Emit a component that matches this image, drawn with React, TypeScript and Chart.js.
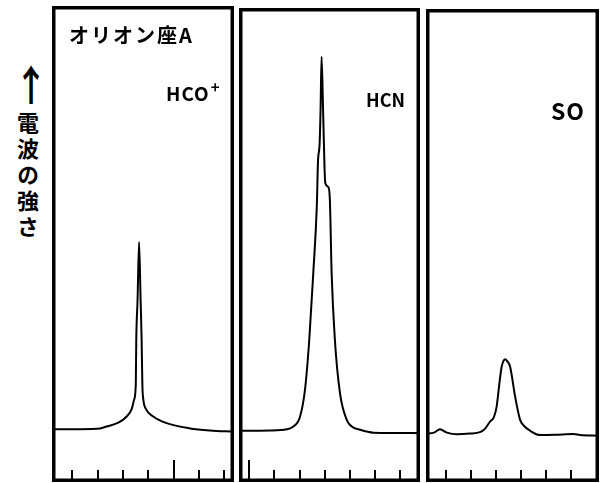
import React, { useEffect, useRef } from "react";
import { Chart, registerables } from "chart.js";

Chart.register(...registerables);

// ---- data (x in tick units, y in relative intensity) ----
const hcoX = [-0.8, 0, 0.98, 1.36, 1.82, 2.15, 2.35, 2.44, 2.51, 2.53, 2.58, 2.64, 2.7, 2.74, 2.77, 2.81, 2.91, 3.2, 3.73, 4.65, 5.44, 6.39];
const hcoY = [10.9, 10.9, 11.0, 11.5, 12.3, 13.6, 15.2, 17.1, 20.3, 30.0, 38.2, 50.4, 38.2, 30.0, 20.3, 17.1, 15.2, 13.6, 12.2, 11.1, 10.65, 10.4];

const hcnX = [-0.41, 0.82, 1.49, 1.75, 2.01, 2.21, 2.38, 2.54, 2.68, 2.73, 2.79, 2.83, 2.87, 2.93, 2.99, 3.02, 3.14, 3.2, 3.27, 3.4, 3.6, 3.87, 4.07, 4.4, 4.93, 6.78];
const hcnY = [10.6, 10.65, 10.9, 11.5, 13.5, 19.2, 29.7, 43.8, 57.9, 67.7, 70.9, 78.3, 89.5, 78.3, 65.6, 62.8, 62.0, 59.3, 43.8, 29.7, 18.6, 12.9, 11.5, 10.8, 10.2, 10.1];

const soX = [-0.8, -0.48, -0.24, 0.04, 0.43, 0.96, 1.36, 1.56, 1.76, 1.92, 2.03, 2.14, 2.23, 2.31, 2.37, 2.45, 2.57, 2.77, 2.97, 3.13, 3.37, 3.77, 4.37, 5.1, 5.37, 6.13];
const soY = [10.0, 10.2, 10.9, 10.2, 9.85, 10.0, 10.3, 11.0, 12.5, 13.5, 15.7, 20.6, 24.1, 25.4, 25.7, 25.3, 24.1, 17.8, 12.9, 11.6, 10.6, 9.7, 9.75, 9.9, 9.7, 9.55];

const ticksHCO = [0, 1, 2, 3, 4, 5, 6];
const tallHCO = [4];
const ticksHCN = [0, 1, 2, 3, 4, 5, 6];
const tallHCN = [0];
const ticksSO = [0, 1, 2, 3, 4, 5];
const tallSO: number[] = [];

const mainTitle = "オリオン座A";
const moleculeNames = ["HCO", "HCN", "SO"];
const hcoCharge = "+";
const yAxisLabel = "電波の強さ";

type Panel = {
  xs: number[];
  ys: number[];
  ticks: number[];
  tall: number[];
  left: number;
  top: number;
  width: number;
  height: number;
  xMin: number;
  xMax: number;
  yMin: number;
  yMax: number;
};

const panels: Panel[] = [
  { xs: hcoX, ys: hcoY, ticks: ticksHCO, tall: tallHCO, left: 52, top: 6, width: 182, height: 476, xMin: -0.8, xMax: 6.39, yMin: -0.21, yMax: 100.21 },
  { xs: hcnX, ys: hcnY, ticks: ticksHCN, tall: tallHCN, left: 239, top: 8, width: 181, height: 474, xMin: -0.41, xMax: 6.78, yMin: -0.21, yMax: 99.79 },
  { xs: soX, ys: soY, ticks: ticksSO, tall: tallSO, left: 426, top: 9, width: 173, height: 473, xMin: -0.8, xMax: 6.13, yMin: -0.21, yMax: 99.58 },
];

const framePlugin = {
  id: "frame",
  afterDraw(chart: any, _args: any, opts: any) {
    const { ctx, chartArea } = chart;
    const xs = chart.scales.x;
    ctx.save();
    ctx.strokeStyle = "#000";
    ctx.lineWidth = 3.5;
    ctx.strokeRect(chartArea.left + 1.75, chartArea.top + 1.75, chartArea.right - chartArea.left - 3.5, chartArea.bottom - chartArea.top - 3.5);
    ctx.lineWidth = 2;
    const bottom = chartArea.bottom - 2;
    (opts.ticks as number[]).forEach((t) => {
      const px = Math.round(xs.getPixelForValue(t));
      const len = (opts.tall as number[]).includes(t) ? 20 : 10;
      ctx.beginPath();
      ctx.moveTo(px, bottom);
      ctx.lineTo(px, bottom - len);
      ctx.stroke();
    });
    ctx.restore();
  },
};

function PanelChart({ p }: { p: Panel }) {
  const ref = useRef<HTMLCanvasElement | null>(null);
  useEffect(() => {
    if (!ref.current) return;
    const chart = new Chart(ref.current, {
      type: "line",
      data: {
        datasets: [
          {
            data: p.xs.map((x, i) => ({ x, y: p.ys[i] })),
            borderColor: "#000",
            borderWidth: 2,
            pointRadius: 0,
            tension: 0,
            cubicInterpolationMode: "monotone",
            fill: false,
          },
        ],
      },
      options: {
        animation: false,
        responsive: false,
        maintainAspectRatio: false,
        layout: { padding: 0, autoPadding: false },
        plugins: {
          legend: { display: false },
          tooltip: { enabled: false },
          frame: { ticks: p.ticks, tall: p.tall },
        } as any,
        scales: {
          x: { type: "linear", min: p.xMin, max: p.xMax, display: false },
          y: { type: "linear", min: p.yMin, max: p.yMax, display: false },
        },
      },
      plugins: [framePlugin],
    });
    return () => chart.destroy();
  }, [p]);
  return (
    <canvas
      ref={ref}
      width={p.width}
      height={p.height}
      style={{ position: "absolute", left: p.left, top: p.top, width: p.width, height: p.height }}
    />
  );
}

export default function App() {
  const handFont = '"Noto Sans CJK JP", "Noto Sans", sans-serif';
  return (
    <div style={{ position: "fixed", left: 0, top: 0, width: 607, height: 483, background: "#fff", overflow: "hidden" }}>
      {panels.map((p, i) => (
        <PanelChart key={i} p={p} />
      ))}
      <div style={{ position: "absolute", left: 69, top: 23, fontFamily: handFont, fontWeight: 700, fontSize: 20, letterSpacing: 2, whiteSpace: "nowrap", lineHeight: "24px" }}>
        {mainTitle}
      </div>
      <div style={{ position: "absolute", left: 166, top: 80, fontFamily: handFont, fontWeight: 700, fontSize: 19, letterSpacing: 1, whiteSpace: "nowrap", lineHeight: "26px" }}>
        {moleculeNames[0]}
        <span style={{ fontSize: 15, position: "relative", top: -8, marginLeft: 1 }}>{hcoCharge}</span>
      </div>
      <div style={{ position: "absolute", left: 366, top: 88, fontFamily: handFont, fontWeight: 700, fontSize: 18, whiteSpace: "nowrap", lineHeight: "22px" }}>
        {moleculeNames[1]}
      </div>
      <div style={{ position: "absolute", left: 551, top: 96, fontFamily: handFont, fontWeight: 700, fontSize: 23, letterSpacing: 1, whiteSpace: "nowrap", lineHeight: "28px" }}>
        {moleculeNames[2]}
      </div>
      <div style={{ position: "absolute", left: 10, top: 56, fontFamily: handFont, fontWeight: 700, fontSize: 42, lineHeight: "54px", transform: "scaleX(0.8)" }}>
        ↑
      </div>
      <div style={{ position: "absolute", left: 15, top: 112, fontFamily: handFont, fontWeight: 700, fontSize: 22, letterSpacing: 4, writingMode: "vertical-rl", lineHeight: "26px" }}>
        {yAxisLabel}
      </div>
    </div>
  );
}
